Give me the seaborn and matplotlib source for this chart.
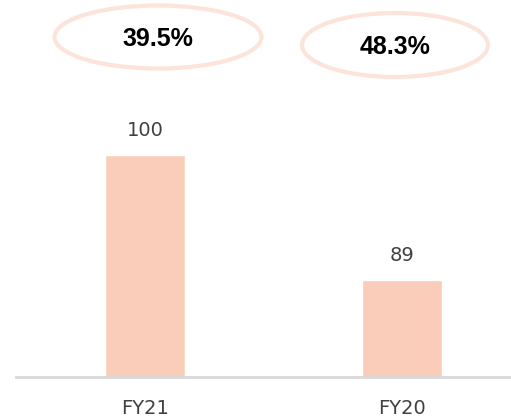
import matplotlib
matplotlib.use("Agg")
import matplotlib.pyplot as plt
from matplotlib.patches import Ellipse
import seaborn as sns
import pandas as pd

categories = ["FY21", "FY20"]
values = [100, 89]
percent_labels = ["39.5%", "48.3%"]

df = pd.DataFrame({"year": categories, "value": values})

sns.set_style("white")
plt.rcParams["font.family"] = ["DejaVu Sans"]

fig = plt.figure(figsize=(5.11, 4.19), dpi=100)
ax = fig.add_axes([16 / 511, 42 / 419, 1 - 16 / 511, 1 - 42 / 419])

sns.barplot(data=df, x="year", y="value", color="#F9CDB9", width=0.31,
            saturation=1, ax=ax)

ax.set_ylim(80.5, 113.6)
ax.set_xlim(-0.502, 1.424)
ax.set_xlabel("")
ax.set_ylabel("")
ax.set_yticks([])
ax.tick_params(axis="x", length=0, pad=16, labelsize=14, labelcolor="#404040")
for s in ["top", "left", "right"]:
    ax.spines[s].set_visible(False)
ax.spines["bottom"].set_color("#D9D9D9")
ax.spines["bottom"].set_linewidth(2)

for i, v in enumerate(values):
    ax.annotate(f"{v}", (i, v), xytext=(0, 11), textcoords="offset points",
                ha="center", va="bottom", fontsize=14, color="#404040")

ellipses = [(158 / 511, 1 - 37 / 419, 207 / 511, 63 / 419),
            (395 / 511, 1 - 45 / 419, 186 / 511, 64 / 419)]
for (cx, cy, w, h), lab in zip(ellipses, percent_labels):
    e = Ellipse((cx, cy), w, h, transform=fig.transFigure, fill=False,
                edgecolor="#FCE4DA", linewidth=3.0)
    fig.add_artist(e)
    fig.text(cx, cy - 0.005, lab, ha="center", va="center", fontsize=18,
             fontweight="bold", color="black", fontfamily="Liberation Sans")

fig.savefig("out.png", dpi=100)
